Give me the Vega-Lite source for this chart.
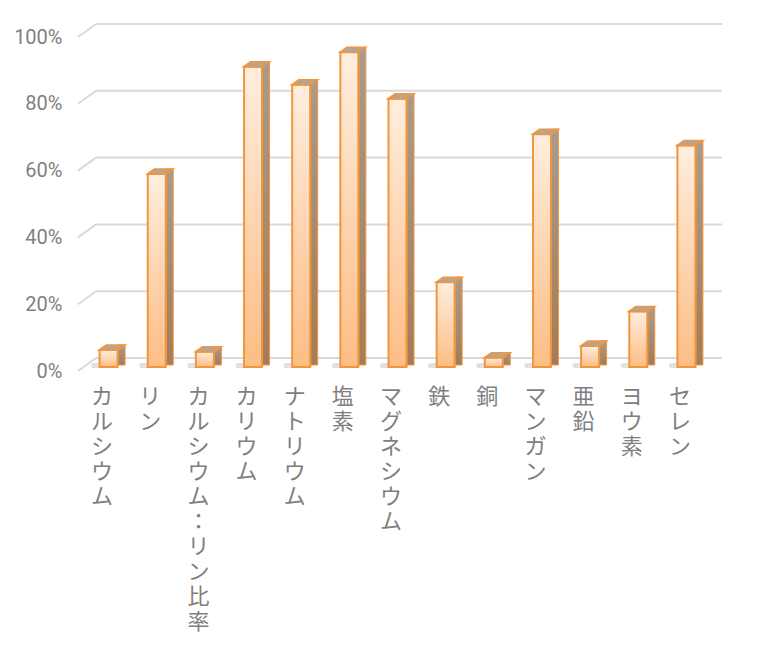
{
  "$schema": "https://vega.github.io/schema/vega-lite/v6.json",
  "autosize": "none",
  "width": 626,
  "height": 334,
  "padding": {"left": 78, "top": 37, "right": 56, "bottom": 275},
  "background": "white",
  "config": {"view": {"stroke": null}},
  "datasets": {
    "minerals": [
      {"name": "カルシウム", "v": 0.051},
      {"name": "リン", "v": 0.578},
      {"name": "カルシウム：リン比率", "v": 0.046},
      {"name": "カリウム", "v": 0.899},
      {"name": "ナトリウム", "v": 0.845},
      {"name": "塩素", "v": 0.942},
      {"name": "マグネシウム", "v": 0.803},
      {"name": "鉄", "v": 0.254},
      {"name": "銅", "v": 0.028},
      {"name": "マンガン", "v": 0.697},
      {"name": "亜鉛", "v": 0.063},
      {"name": "ヨウ素", "v": 0.166},
      {"name": "セレン", "v": 0.663}
    ],
    "ticks": [{"t": 0}, {"t": 0.2}, {"t": 0.4}, {"t": 0.6}, {"t": 0.8}, {"t": 1}]
  },
  "encoding": {
    "x": {
      "field": "name",
      "type": "nominal",
      "sort": null,
      "scale": {
        "domain": ["カルシウム", "リン", "カルシウム：リン比率", "カリウム", "ナトリウム", "塩素", "マグネシウム", "鉄", "銅", "マンガン", "亜鉛", "ヨウ素", "セレン"],
        "paddingInner": 0, "paddingOuter": 0
      },
      "axis": {
        "title": null, "domain": false, "ticks": false, "labelAngle": 0,
        "labelAlign": "center", "labelBaseline": "top", "labelPadding": 15,
        "labelExpr": "split(datum.label, '')",
        "labelFont": "Noto Sans CJK JP", "labelFontSize": 22, "labelLineHeight": 25,
        "labelColor": "#7F7F7F", "labelOverlap": false, "labelLimit": 1000
      }
    }
  },
  "layer": [
    {
      "data": {"name": "ticks"},
      "mark": {"type": "rule", "color": "#D9D9D9", "strokeWidth": 2, "clip": false,
               "xOffset": -6.08, "x2Offset": 42.1, "yOffset": -13, "y2Offset": -13},
      "encoding": {
        "x": {"datum": "カルシウム", "type": "nominal"},
        "x2": {"datum": "セレン"},
        "y": {"field": "t", "type": "quantitative", "scale": {"domain": [0, 1], "nice": false},
              "axis": {"title": null, "grid": false, "domain": false, "ticks": false,
                       "values": [0, 0.2, 0.4, 0.6, 0.8, 1], "format": ".0%",
                       "labelFont": "Roboto", "labelFontSize": 20,
                       "labelColor": "#7F7F7F", "labelPadding": 16}},
        "y2": {"field": "t"}
      }
    },
    {
      "data": {"name": "ticks"},
      "mark": {"type": "rule", "color": "#D9D9D9", "strokeWidth": 2, "clip": false,
               "xOffset": -24.08, "x2Offset": -6.08, "y2Offset": -13},
      "encoding": {
        "x": {"datum": "カルシウム", "type": "nominal"},
        "x2": {"datum": "カルシウム"},
        "y": {"field": "t", "type": "quantitative"},
        "y2": {"field": "t"}
      }
    },
    {
      "data": {"name": "minerals"},
      "mark": {"type": "bar", "color": "#9A9A9A", "opacity": 0.3, "width": 26,
               "xOffset": 2, "yOffset": -8, "y2Offset": -3, "cornerRadius": 2},
      "encoding": {
        "y": {"datum": 0, "type": "quantitative"},
        "y2": {"datum": 0}
      }
    },
    {
      "data": {"name": "minerals"},
      "mark": {"type": "bar", "width": 7, "xOffset": 19.5, "yOffset": -9, "y2Offset": -6,
               "stroke": "#F0963C", "strokeWidth": 1,
               "color": {"gradient": "linear", "x1": 0, "y1": 0, "x2": 0, "y2": 1,
                         "stops": [{"offset": 0, "color": "#A99B8E"}, {"offset": 1, "color": "#A47C57"}]}},
      "encoding": {
        "y": {"field": "v", "type": "quantitative", "stack": null},
        "y2": {"datum": 0}
      }
    },
    {
      "data": {"name": "minerals"},
      "mark": {"type": "bar", "width": 18, "xOffset": 6.5, "yOffset": -4, "y2Offset": -4,
               "stroke": "#F0963C", "strokeWidth": 2,
               "color": {"gradient": "linear", "x1": 0, "y1": 0, "x2": 0, "y2": 1,
                         "stops": [{"offset": 0, "color": "#FFEEDF"}, {"offset": 1, "color": "#FDBD85"}]}},
      "encoding": {
        "y": {"field": "v", "type": "quantitative", "stack": null},
        "y2": {"datum": 0}
      }
    },
    {
      "data": {"name": "minerals"},
      "mark": {"type": "point", "filled": true, "opacity": 1, "size": 676, "yOffset": -4,
               "shape": "M -0.2308 0 L 1.2308 0 L 1.7692 -0.3846 L 0.3077 -0.3846 Z",
               "fill": "#B4A596", "stroke": "#F0963C", "strokeWidth": 1.5},
      "encoding": {
        "y": {"field": "v", "type": "quantitative"}
      }
    }
  ]
}
